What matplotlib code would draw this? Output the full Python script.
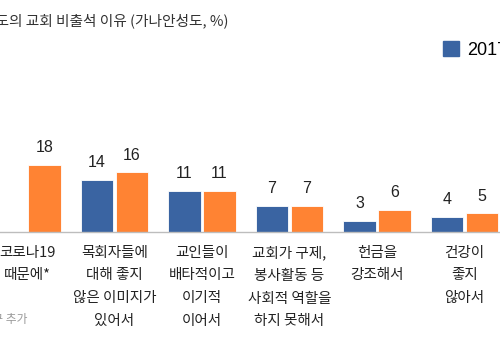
import numpy as np
import matplotlib
matplotlib.use("Agg")
import matplotlib.pyplot as plt
from matplotlib.patches import Patch

plt.rcParams['font.family'] = ['Noto Sans CJK KR', 'DejaVu Sans']

categories = [
    "코로나19\n때문에*",
    "목회자들에\n대해 좋지\n않은 이미지가\n있어서",
    "교인들이\n배타적이고\n이기적\n이어서",
    "교회가 구제,\n봉사활동 등\n사회적 역할을\n하지 못해서",
    "헌금을\n강조해서",
    "건강이\n좋지\n않아서",
]
series_names = ["2017년", "2023년"]
values_2017 = [np.nan, 14, 11, 7, 3, 4]
values_2023 = [18, 16, 11, 7, 6, 5]

title = "코로나19 이후 가나안 성도의 교회 비출석 이유 (가나안성도, %)"
note = "*2023년 연구 추가"

blue = "#3A64A2"
orange = "#FF8333"

W, H = 500, 340
fig = plt.figure(figsize=(W / 100, H / 100), dpi=100)

# axes placed in pixel terms: group spacing 87.5 px, first group centre at x=27
unit = 87.5
x_left = 27 - 0.5 * unit
ax_w = 6 * unit
base_y = 232
ymax = 20
ax_h = ymax * 3.72
ax = fig.add_axes([x_left / W, (H - base_y) / H, ax_w / W, ax_h / H])

x = np.arange(len(categories))
off = 0.2
bw = 0.366
ax.bar(x - off, values_2017, bw, color=blue, edgecolor="white", linewidth=0.6)
ax.bar(x + off, values_2023, bw, color=orange, edgecolor="white", linewidth=0.6)

for xs, vals in ((x - off, values_2017), (x + off, values_2023)):
    for xi, v in zip(xs, vals):
        if np.isnan(v):
            continue
        ax.annotate(f"{v:g}", (xi, v), xytext=(0, 7), textcoords="offset points",
                    ha="center", va="bottom", fontsize=11.5, color="#222222",
                    family=['Liberation Sans', 'DejaVu Sans'])

ax.set_xlim(-0.5, 5.5)
ax.set_ylim(0, ymax)
ax.set_yticks([])
ax.set_xticks(x)
ax.set_xticklabels(categories, fontsize=10.5, color="#222222", linespacing=1.78,
                   va="top")
ax.tick_params(axis="x", length=0, pad=10)
for s in ("top", "right", "left"):
    ax.spines[s].set_visible(False)
ax.spines["bottom"].set_color("#BDBDBD")
ax.spines["bottom"].set_linewidth(1.0)

fig.text(228 / W, 1 - 21 / H, title, ha="right", va="center", fontsize=10.6,
         color="#333333")
fig.text(27 / W, 1 - 320 / H, note, ha="right", va="center", fontsize=8.5,
         color="#9A9A9A")

handles = [Patch(facecolor=blue, edgecolor=blue), Patch(facecolor=orange, edgecolor=orange)]
fig.legend(handles, series_names, loc="upper left",
           bbox_to_anchor=(443 / W, 1 - 41 / H), ncol=2, frameon=False,
           borderpad=0, borderaxespad=0, handlelength=0.9, handleheight=0.9,
           handletextpad=0.45, columnspacing=1.5,
           prop={"family": ['Liberation Sans', 'Noto Sans CJK KR'], "size": 13})

fig.savefig("out.png", dpi=100, facecolor="white")
